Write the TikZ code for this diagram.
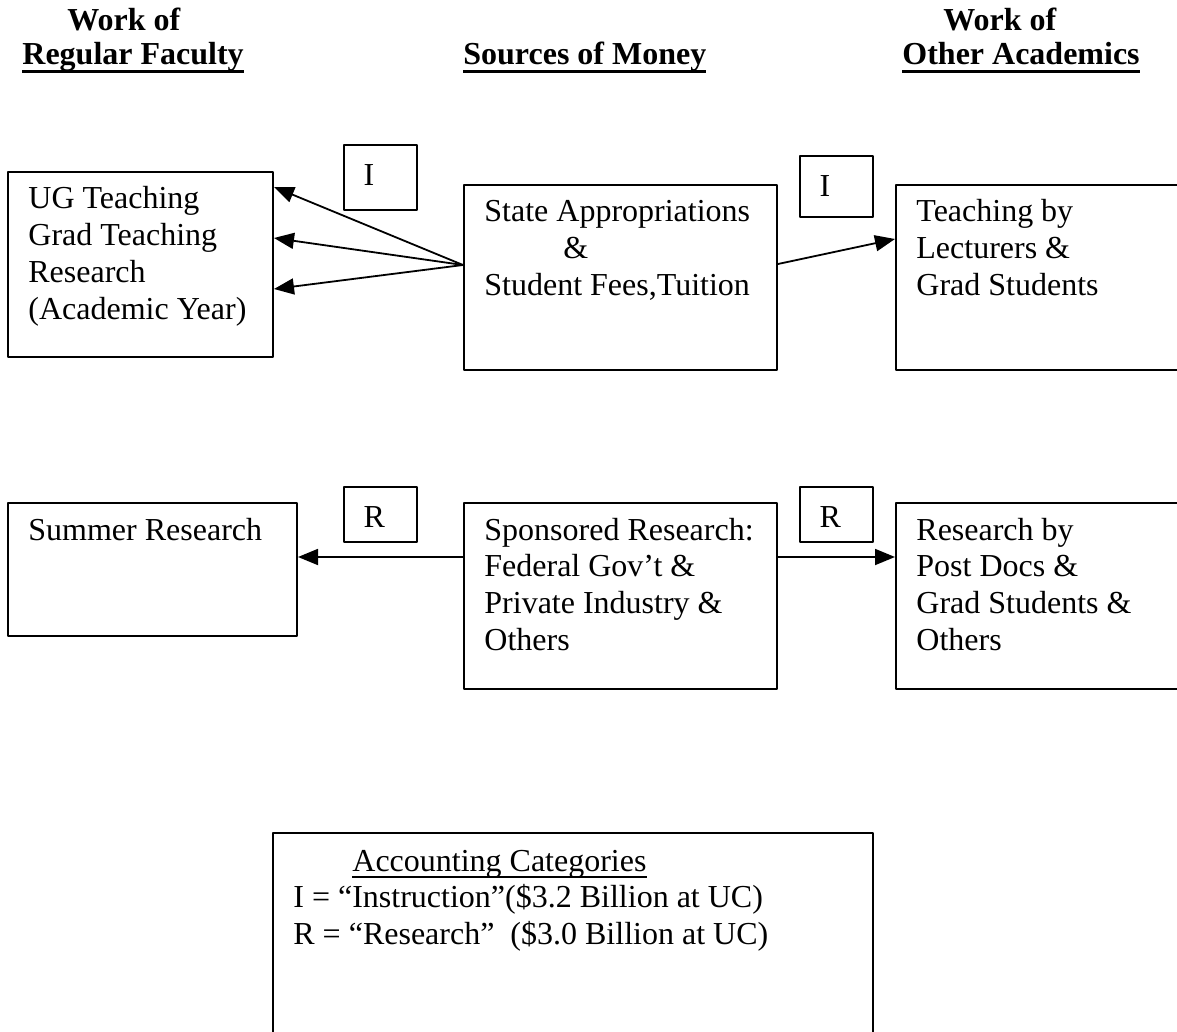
\documentclass[tikz,border=0pt]{standalone}
\usepackage{fontspec}
\setmainfont{Liberation Serif}
\usetikzlibrary{arrows.meta,fit}
% gạch dưới kiểu Word
\newcommand\undl[3]{\setbox0\hbox{#3}\rlap{\rule[#1]{\wd0}{#2}}\box0}
\newcommand\stack[1]{\begin{tabular}[t]{@{}l@{}}#1\end{tabular}}

\begin{document}
\begin{tikzpicture}[x=.5pt, y=-.5pt, line join=round, >={Triangle[length=10pt,width=8pt]},
	font=\fontsize{16}{18.4}\selectfont,
	box/.style={draw, line width=1pt, inner sep=0pt},
	tag/.style={draw, line width=.8pt, inner sep=0pt},
	txt/.style={anchor=base west, inner sep=0pt},
	head/.style={txt, font=\fontsize{16}{18.4}\selectfont\bfseries},
	link/.style={->, line width=.9pt}]
	\useasboundingbox (0,0) rectangle (1177,1032);
	
	% tiêu đề
	\node[head] (wf1) at (67,31) {Work of};
	\node[head] (rf) at (22,65) {\undl{-3.8pt}{1.5pt}{Regular Faculty}};
	\node[head] (sm) at (463,65) {\undl{-3.8pt}{1.5pt}{Sources of Money}};
	\node[head] (wf2) at (943,31) {Work of};
	\node[head] (oa) at (902,65) {\undl{-3.8pt}{1.5pt}{Other Academics}};
	
	% hàng trên
	\node[box, fit={(8,172) (273,357)}] (ug) {};
	\node[box, fit={(464,185) (777,370)}] (sa) {};
	\node[box, fit={(896,185) (1200,370)}] (tl) {};
	% hàng dưới
	\node[box, fit={(8,503) (297,636)}] (sr) {};
	\node[box, fit={(464,503) (777,689)}] (sp) {};
	\node[box, fit={(896,503) (1200,689)}] (rp) {};
	% chú thích
	\node[box, fit={(273,833) (873,1060)}] (ac) {};
	
	% nhãn I, R
	\node[tag, fit={(344,145) (417,210)}] (i1) {};
	\node[tag, fit={(800,156) (873,217)}] (i2) {};
	\node[tag, fit={(344,487) (417,542)}] (r1) {};
	\node[tag, fit={(800,487) (873,542)}] (r2) {};
	\foreach \t/\c in {i1/I, i2/I, r1/R, r2/R}
	\node[txt] (\t-t) at ([shift={(10pt,-20.5pt)}]\t.north west) {\c};
	
	% chữ trong hộp
	\node[txt] (ug-t) at ([shift={(10.5pt,-19pt)}]ug.north west)
	{\stack{UG Teaching\\Grad Teaching\\Research\\(Academic Year)}};
	\node[txt] (sa-t) at ([shift={(10.5pt,-19pt)}]sa.north west)
	{\stack{State Appropriations\\\hspace*{39.5pt}\&\\Student Fees,Tuition}};
	\node[txt] (tl-t) at ([shift={(10.5pt,-19pt)}]tl.north west)
	{\stack{Teaching by\\Lecturers \&\\Grad Students}};
	\node[txt] (sr-t) at ([shift={(10.5pt,-19pt)}]sr.north west) {Summer Research};
	\node[txt] (sp-t) at ([shift={(10.5pt,-19pt)}]sp.north west)
	{\stack{Sponsored Research:\\Federal Gov't \&\\Private Industry \&\\Others}};
	\node[txt] (rp-t) at ([shift={(10.5pt,-19pt)}]rp.north west)
	{\stack{Research by\\Post Docs \&\\Grad Students \&\\Others}};
	\node[txt] (ac-t) at ([shift={(10.5pt,-19.5pt)}]ac.north west)
	{\stack{\hspace*{29.5pt}\undl{-3.3pt}{.65pt}{Accounting Categories}\\
			I = ``Instruction''(\$3.2 Billion at UC)\\
			R = ``Research''\ \ (\$3.0 Billion at UC)}};
	
	% mũi tên
	\foreach \yy in {187,238,289}
	\draw[link] (sa.west |- 0,265) -- (ug.east |- 0,\yy);
	\draw[link] (sa.east |- 0,264) -- (tl.west |- 0,239);
	\draw[link] (sp.west |- 0,557) -- (sr.east |- 0,557);
	\draw[link] (sp.east |- 0,557) -- (rp.west |- 0,557);
\end{tikzpicture}
\end{document}
